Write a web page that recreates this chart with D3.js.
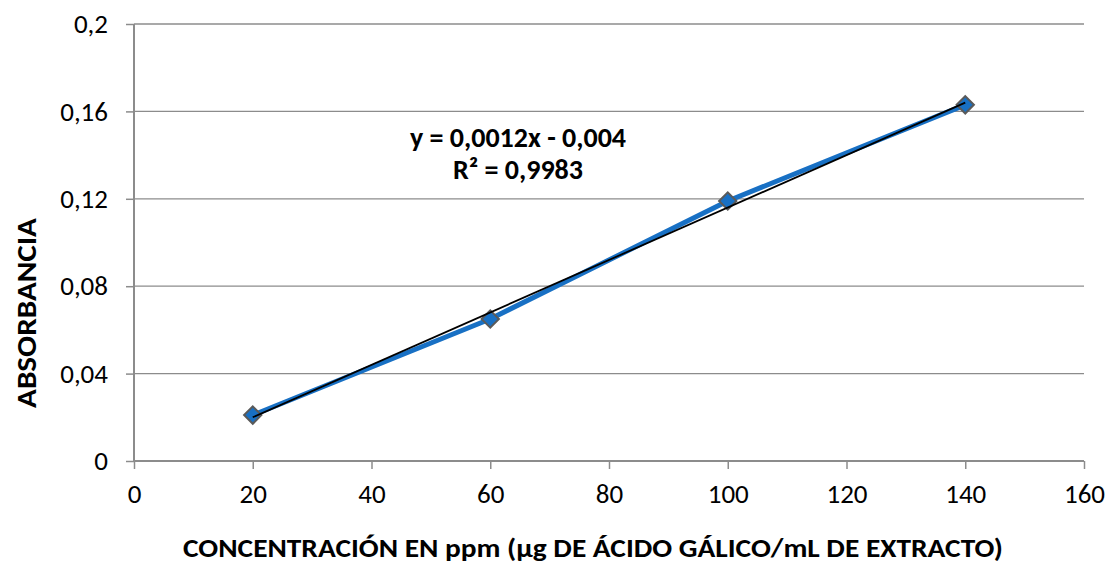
<!DOCTYPE html>
<html>
<head>
<meta charset="utf-8">
<script src="https://cdn.jsdelivr.net/npm/d3@7"></script>
<style>
  body { margin: 0; background: #fff; }
  svg { font-family: Carlito, Lato, "Open Sans", sans-serif; }
</style>
</head>
<body>
<div id="chart"></div>
<script>
// calibration data
var concentrations = [20, 60, 100, 140];
var absorbances = [0.021, 0.065, 0.119, 0.163];
var xTicks = [0, 20, 40, 60, 80, 100, 120, 140, 160];
var yTicks = [0, 0.04, 0.08, 0.12, 0.16, 0.2];
var yTickLabels = ['0', '0,04', '0,08', '0,12', '0,16', '0,2'];
var slope = 0.0012;
var intercept = -0.004;
var equationLines = ['y = 0,0012x - 0,004', 'R² = 0,9983'];

var width = 1108;
var height = 564;
var margin = { top: 24, right: 24, bottom: 103, left: 134 };
var fontStack = 'Carlito, Lato, "Open Sans", sans-serif';

var svg = d3.select('#chart')
  .append('svg')
  .attr('width', width)
  .attr('height', height);

var x = d3.scaleLinear().domain([0, 160]).range([margin.left, width - margin.right]);
var y = d3.scaleLinear().domain([0, 0.2]).range([height - margin.bottom, margin.top]);

//horizontal gridlines
svg.append('g')
  .selectAll('line')
  .data(yTicks.slice(1))
  .enter()
  .append('line')
  .attr('x1', x(0))
  .attr('x2', x(160))
  .attr('y1', function(d) { return y(d); })
  .attr('y2', function(d) { return y(d); })
  .attr('stroke', '#8c8c8c')
  .attr('stroke-width', 1.3);

//y axis
var yAxis = svg.append('g')
  .attr('transform', 'translate(' + x(0) + ',0)')
  .call(d3.axisLeft(y).tickValues(yTicks)
    .tickFormat(function(d, i) { return yTickLabels[i]; })
    .tickSize(8).tickPadding(18));

//x axis
var xAxis = svg.append('g')
  .attr('transform', 'translate(0,' + y(0) + ')')
  .call(d3.axisBottom(x).tickValues(xTicks).tickSize(8).tickPadding(15));

[xAxis, yAxis].forEach(function(a) {
  a.attr('font-size', null).attr('font-family', null);
  a.select('.domain').attr('stroke', '#8c8c8c').attr('stroke-width', 2);
  a.selectAll('.tick line').attr('stroke', '#8c8c8c').attr('stroke-width', 1.5);
  a.selectAll('.tick text').attr('fill', '#000')
    .style('font-size', '27px')
    .style('font-family', fontStack);
});
xAxis.select('.domain').attr('d', 'M' + x(0) + ',0H' + x(160));
yAxis.select('.domain').attr('d', 'M0,' + y(0) + 'V' + y(0.2));

//data line
var line = d3.line()
  .x(function(d, i) { return x(concentrations[i]); })
  .y(function(d) { return y(d); });

svg.append('path')
  .datum(absorbances)
  .attr('d', line)
  .attr('fill', 'none')
  .attr('stroke', '#1870c4')
  .attr('stroke-width', 5)
  .attr('stroke-linejoin', 'round');

//diamond markers
svg.append('g')
  .selectAll('path')
  .data(absorbances)
  .enter()
  .append('path')
  .attr('d', d3.symbol().type(d3.symbolSquare).size(150))
  .attr('transform', function(d, i) {
    return 'translate(' + x(concentrations[i]) + ',' + y(d) + ') rotate(45)';
  })
  .attr('fill', '#1870c4')
  .attr('stroke', '#5a5a5a')
  .attr('stroke-width', 2);

//linear trendline
var xMin = d3.min(concentrations);
var xMax = d3.max(concentrations);
svg.append('line')
  .attr('x1', x(xMin))
  .attr('y1', y(slope * xMin + intercept))
  .attr('x2', x(xMax))
  .attr('y2', y(slope * xMax + intercept))
  .attr('stroke', '#000')
  .attr('stroke-width', 1.8);

//equation label
svg.append('g')
  .selectAll('text')
  .data(equationLines)
  .enter()
  .append('text')
  .attr('x', 518)
  .attr('y', function(d, i) { return 147 + i * 32; })
  .attr('text-anchor', 'middle')
  .style('font-size', '28px')
  .style('font-weight', 'bold')
  .text(function(d) { return d; });

//axis titles
svg.append('text')
  .attr('x', 593)
  .attr('y', 557)
  .attr('text-anchor', 'middle')
  .attr('textLength', 820)
  .attr('lengthAdjust', 'spacingAndGlyphs')
  .style('font-size', '27px')
  .style('font-weight', 'bold')
  .text('CONCENTRACIÓN EN ppm (µg DE ÁCIDO GÁLICO/mL DE EXTRACTO)');

svg.append('text')
  .attr('transform', 'translate(36,313) rotate(-90)')
  .attr('text-anchor', 'middle')
  .attr('textLength', 190)
  .attr('lengthAdjust', 'spacingAndGlyphs')
  .style('font-size', '28px')
  .style('font-weight', 'bold')
  .text('ABSORBANCIA');
</script>
</body>
</html>
